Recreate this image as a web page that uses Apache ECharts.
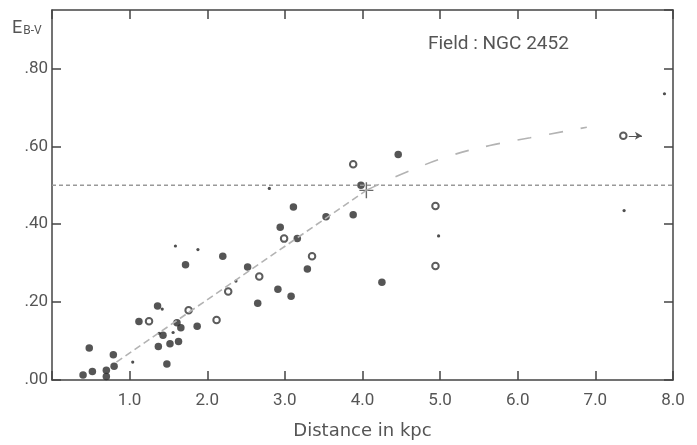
<!DOCTYPE html>
<html>
<head>
<meta charset="utf-8">
<script src="https://cdn.jsdelivr.net/npm/echarts@6/dist/echarts.min.js"></script>
<style>
html,body{margin:0;padding:0;background:#fff;}
#chart{width:697px;height:445px;}
</style>
</head>
<body>
<div id="chart"></div>
<script>
// ---- data (distance in kpc, E(B-V)) ----
var filledX = [0.40,0.48,0.52,0.70,0.70,0.79,0.80,1.12,1.36,1.37,1.43,1.48,1.52,1.61,1.63,1.66,1.72,1.87,2.20,2.52,2.65,2.91,2.94,3.08,3.11,3.16,3.29,3.53,3.88,3.98,4.25,4.46];
var filledY = [0.013,0.082,0.022,0.025,0.009,0.065,0.035,0.150,0.190,0.086,0.115,0.041,0.093,0.147,0.099,0.134,0.296,0.138,0.318,0.290,0.197,0.233,0.392,0.215,0.444,0.363,0.285,0.419,0.424,0.500,0.251,0.579];
var openX = [1.25,1.76,2.12,2.27,2.67,2.99,3.35,3.88,4.94,4.94,7.36];
var openY = [0.151,0.179,0.154,0.227,0.266,0.363,0.318,0.554,0.447,0.293,0.627];
var smallX = [1.04,1.38,1.42,1.56,1.59,1.88,2.37,2.80,4.98,7.37,7.89];
var smallY = [0.046,0.120,0.182,0.122,0.344,0.335,0.254,0.492,0.370,0.435,0.735];
var trendInnerX = [0.83,4.05];
var trendInnerY = [0.046,0.487];
var trendOuterX = [4.05,4.57,5.15,5.64,6.16,6.89];
var trendOuterY = [0.487,0.534,0.577,0.602,0.622,0.649];
var crossX = [4.05];
var crossY = [0.487];
var limitY = 0.50;
var limitX = [0, 8.0];
var limitArrowX = [-0.41, -0.12];
var lowerLimitArrowX = [7.43, 7.60];
var lowerLimitArrowY = 0.627;
var xTicks = {min: 0, max: 8.0, interval: 1.0};
var yTicks = {min: 0, max: 0.95, interval: 0.2};

function zip(xs, ys){ return xs.map(function(x,i){ return [x, ys[i]]; }); }

var axisColor = '#444';
var textColor = '#555';
var font = 'Roboto';

var chart = echarts.init(document.getElementById('chart'));
chart.setOption({
  animation: false,
  backgroundColor: '#fff',
  grid: {left: 52, right: 24, top: 10, bottom: 62},
  xAxis: [{
    type: 'value', min: xTicks.min, max: xTicks.max, interval: xTicks.interval,
    position: 'bottom',
    name: 'Distance in kpc', nameLocation: 'middle', nameGap: 42,
    nameTextStyle: {color: textColor, fontFamily: 'DejaVu Sans', fontSize: 18},
    axisLine: {show: true, onZero: false, lineStyle: {color: axisColor, width: 1.5}},
    axisTick: {show: true, inside: true, length: 9, lineStyle: {color: axisColor, width: 1.5}},
    axisLabel: {color: textColor, fontFamily: font, fontSize: 17, margin: 12,
      formatter: function(v){ return v === 0 ? '' : v.toFixed(1); }},
    splitLine: {show: false}
  },{
    type: 'value', min: xTicks.min, max: xTicks.max, interval: xTicks.interval,
    position: 'top',
    axisLine: {show: true, onZero: false, lineStyle: {color: axisColor, width: 1.5}},
    axisTick: {show: true, inside: true, length: 9, lineStyle: {color: axisColor, width: 1.5}},
    axisLabel: {show: false},
    splitLine: {show: false}
  }],
  yAxis: [{
    type: 'value', min: yTicks.min, max: yTicks.max, interval: yTicks.interval,
    position: 'left',
    axisLine: {show: true, onZero: false, lineStyle: {color: axisColor, width: 1.5}},
    axisTick: {show: true, inside: true, length: 9, lineStyle: {color: axisColor, width: 1.5}},
    axisLabel: {color: textColor, fontFamily: font, fontSize: 17, margin: 4, showMaxLabel: false,
      formatter: function(v){ return v.toFixed(2).replace(/^0/, ''); }},
    splitLine: {show: false}
  },{
    type: 'value', min: yTicks.min, max: yTicks.max, interval: yTicks.interval,
    position: 'right',
    axisLine: {show: true, onZero: false, lineStyle: {color: axisColor, width: 1.5}},
    axisTick: {show: true, inside: true, length: 9, lineStyle: {color: axisColor, width: 1.5}},
    axisLabel: {show: false},
    splitLine: {show: false}
  }],
  graphic: [{
    type: 'text', left: 12, top: 19,
    style: {
      text: '{e|E}{s|B-V}',
      rich: {
        e: {fontFamily: font, fontSize: 18, fill: textColor, lineHeight: 22, verticalAlign: 'bottom'},
        s: {fontFamily: font, fontSize: 12, fill: textColor, lineHeight: 22, verticalAlign: 'bottom', padding: [0,0,0,1]}
      }
    }
  },{
    type: 'text', left: 428, top: 35,
    style: {text: 'Field : NGC 2452', fontFamily: font, fontSize: 19, fill: textColor}
  }],
  series: [{
    type: 'line', name: 'limit', data: zip(limitX, [limitY, limitY]),
    symbol: 'none', silent: true, clip: false,
    lineStyle: {color: '#999', width: 1.3, type: [4,3]},
    markLine: {
      silent: true, symbol: ['none','arrow'], symbolSize: [6,7],
      label: {show: false},
      lineStyle: {color: '#555', width: 1, type: 'solid'},
      data: [
        [{coord: [limitArrowX[0], limitY]}, {coord: [limitArrowX[1], limitY]}],
        [{coord: [lowerLimitArrowX[0], lowerLimitArrowY]}, {coord: [lowerLimitArrowX[1], lowerLimitArrowY]}]
      ]
    }
  },{
    type: 'line', name: 'trend1', data: zip(trendInnerX, trendInnerY),
    symbol: 'none', silent: true,
    lineStyle: {color: '#b3b3b3', width: 1.6, type: [7,4]}
  },{
    type: 'line', name: 'trend2', data: zip(trendOuterX, trendOuterY),
    symbol: 'none', silent: true, smooth: 0.4,
    lineStyle: {color: '#b3b3b3', width: 1.6, type: [14,18]}
  },{
    type: 'scatter', name: 'filled', data: zip(filledX, filledY),
    symbol: 'circle', symbolSize: 7.5,
    itemStyle: {color: '#2a2a2a'}
  },{
    type: 'scatter', name: 'open', data: zip(openX, openY),
    symbol: 'emptyCircle', symbolSize: 6.5,
    itemStyle: {color: '#333', borderWidth: 1.6}
  },{
    type: 'scatter', name: 'small', data: zip(smallX, smallY),
    symbol: 'circle', symbolSize: 3.2,
    itemStyle: {color: '#222'}
  },{
    type: 'scatter', name: 'cross', data: zip(crossX, crossY),
    symbol: 'path://M6.3,0L7.7,0L7.7,16L6.3,16Z M0,7.3L14,7.3L14,8.7L0,8.7Z',
    symbolSize: [14,16],
    itemStyle: {color: '#444'}
  }]
});
</script>
</body>
</html>
